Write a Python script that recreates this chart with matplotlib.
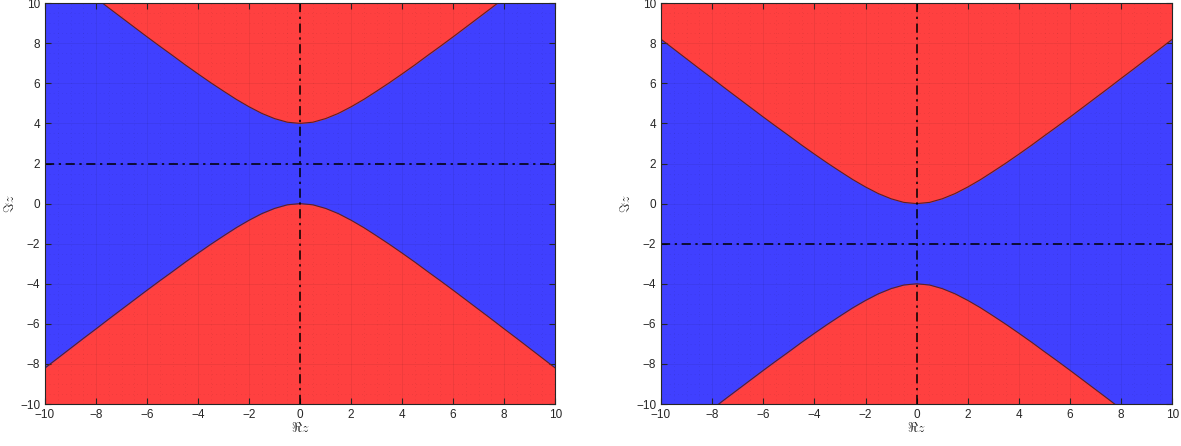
import numpy as np
import matplotlib.pyplot as plt
from matplotlib.ticker import MultipleLocator

plt.rcParams['font.family'] = ['Liberation Sans', 'DejaVu Sans']
plt.rcParams['mathtext.fontset'] = 'cm'

# boundary: distance of the red regions from the centre line
x_half = [0, 0.5, 1, 1.5, 2, 2.5, 3, 3.5, 4, 4.5, 5, 5.5, 6, 6.5, 7, 7.5, 8, 8.5, 9, 9.5, 10]
dist = [2.00, 2.06, 2.24, 2.50, 2.83, 3.20, 3.61, 4.03, 4.47, 4.92, 5.39, 5.85,
        6.32, 6.80, 7.28, 7.76, 8.25, 8.73, 9.22, 9.71, 10.20]
centres = [2, -2]   # horizontal dash-dot line of each panel

x = np.concatenate([-np.array(x_half[::-1]), np.array(x_half[1:])])
d = np.concatenate([np.array(dist[::-1]), np.array(dist[1:])])

red = '#ff4040'
blue = '#4040ff'

fig = plt.figure(figsize=(11.81, 4.46), dpi=100)
rects = [[0.0381, 0.094, 0.432, 0.899], [0.5597, 0.094, 0.433, 0.899]]

for rect, c in zip(rects, centres):
    ax = fig.add_axes(rect)
    ax.set_facecolor(blue)
    up = c + d
    lo = c - d
    ax.fill_between(x, up, 20, color=red, lw=0)
    ax.fill_between(x, -20, lo, color=red, lw=0)
    ax.plot(x, up, color='#602020', lw=0.8)
    ax.plot(x, lo, color='#602020', lw=0.8)
    ax.axvline(0, color='black', lw=1.1, dashes=(6, 3, 1.5, 3))
    ax.axhline(c, color='black', lw=1.1, dashes=(6, 3, 1.5, 3))
    ax.set_xlim(-10, 10)
    ax.set_ylim(-10, 10)
    ax.xaxis.set_major_locator(MultipleLocator(2))
    ax.yaxis.set_major_locator(MultipleLocator(2))
    ax.xaxis.set_minor_locator(MultipleLocator(0.5))
    ax.yaxis.set_minor_locator(MultipleLocator(0.5))
    ax.grid(True, which='major', color='black', alpha=0.07, lw=0.6)
    ax.grid(True, which='minor', color='black', alpha=0.12, lw=0.5, dashes=(1, 5))
    ax.tick_params(which='both', direction='in', top=True, right=True,
                   labelsize=8.5, labelcolor='#262626', color='#262626')
    ax.tick_params(which='minor', length=0)
    ax.tick_params(which='major', length=4)
    for s in ax.spines.values():
        s.set_color('#262626')
        s.set_linewidth(0.8)
    ax.set_xlabel(r'$\Re z$', fontsize=10, labelpad=0, color='#262626')
    ax.set_ylabel(r'$\Im z$', fontsize=10, labelpad=2, color='#262626')

fig.savefig('out.png', dpi=100)
